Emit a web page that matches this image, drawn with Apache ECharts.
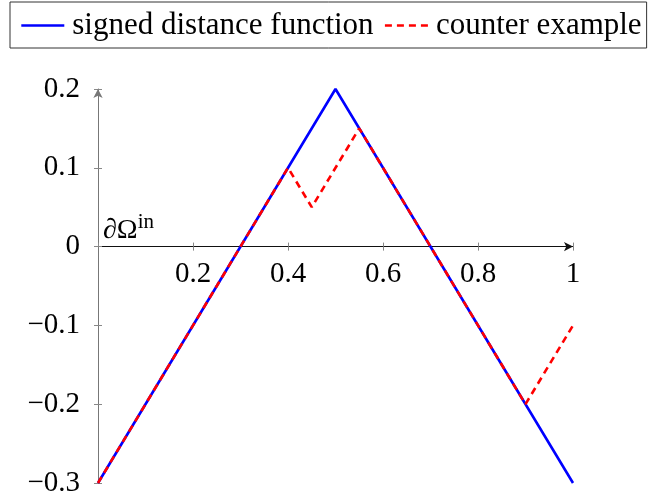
<!DOCTYPE html>
<html><head><meta charset="utf-8">
<script src="https://cdn.jsdelivr.net/npm/echarts@6/dist/echarts.min.js"></script>
<style>html,body{margin:0;padding:0;background:#fff}#c{width:652px;height:500px}</style>
</head><body><div id="c"></div>
<script>
const sdfX = [0, 0.5, 1];
const sdfY = [-0.3, 0.2, -0.3];
const ceX = [0, 0.4, 0.45, 0.55, 0.9, 1];
const ceY = [-0.3, 0.1, 0.05, 0.15, -0.2, -0.1];
const xTicks = [0.2, 0.4, 0.6, 0.8, 1];
const yTicks = [-0.3, -0.2, -0.1, 0, 0.1, 0.2];
const FONT = 'Liberation Serif';
const GRID = {left: 98, right: 79, top: 89, bottom: 17};
const plotH = 500 - GRID.top - GRID.bottom;
const zeroOffset = -plotH * (0 - yTicks[0]) / (yTicks[yTicks.length-1] - yTicks[0]);
const chart = echarts.init(document.getElementById('c'), null, {renderer: 'canvas'});
const fmtY = v => { const r = Math.round(v*10)/10; return r < 0 ? '\u2212' + String(-r) : String(r); };
const fmtX = v => xTicks.some(t => Math.abs(t - v) < 1e-9) ? String(Math.round(v*10)/10) : '';
chart.setOption({
  animation: false,
  textStyle: {fontFamily: FONT},
  legend: {
    top: 2, left: 10, width: 640,
    padding: [8, 5, 7, 10],
    borderColor: '#333', borderWidth: 1,
    itemGap: 10, itemWidth: 43, itemHeight: 30,
    itemStyle: {opacity: 0},
    lineStyle: {width: 2.6},
    textStyle: {fontFamily: FONT, fontSize: 31, color: '#000', padding: [0, 0, 0, 3]},
    data: ['signed distance function', 'counter example']
  },
  grid: Object.assign({outerBoundsMode: 'none', containLabel: false}, GRID),
  xAxis: [{
    type: 'value', min: 0, max: 1, interval: 0.2, position: 'bottom', offset: zeroOffset,
    axisLine: {onZero: false, lineStyle: {color: '#111', width: 1}, symbol: ['none', 'arrow'], symbolSize: [7, 9]},
    axisTick: {show: true, length: 4, lineStyle: {color: '#888'}},
    axisLabel: {fontFamily: FONT, fontSize: 29, color: '#000', margin: 13, formatter: fmtX, showMinLabel: false},
    splitLine: {show: false}
  }, {
    type: 'value', min: 0, max: 1, interval: 0.2, position: 'bottom', offset: zeroOffset,
    axisLine: {show: false, onZero: false},
    axisTick: {show: true, inside: true, length: 4, lineStyle: {color: '#888'}},
    axisLabel: {show: false},
    splitLine: {show: false}
  }],
  yAxis: [{
    type: 'value', min: -0.3, max: 0.2, interval: 0.1,
    axisLine: {show: true, onZero: false, lineStyle: {color: '#777', width: 1}, symbol: ['none', 'arrow'], symbolSize: [7, 9]},
    axisTick: {show: true, length: 4, lineStyle: {color: '#888'}},
    axisLabel: {fontFamily: FONT, fontSize: 29, color: '#000', margin: 18, formatter: fmtY},
    splitLine: {show: false}
  }, {
    type: 'value', min: -0.3, max: 0.2, interval: 0.1, position: 'left',
    axisLine: {show: false, onZero: false},
    axisTick: {show: true, inside: true, length: 4, lineStyle: {color: '#888'}},
    axisLabel: {show: false},
    splitLine: {show: false}
  }],
  series: [
    {
      name: 'signed distance function', type: 'line', symbol: 'none',
      data: sdfX.map((x, i) => [x, sdfY[i]]),
      lineStyle: {color: '#0000ff', width: 2.6}, itemStyle: {color: '#0000ff'},
      markPoint: {
        symbol: 'rect', symbolSize: 0, silent: true,
        data: [{coord: [0, 0]}],
        label: {show: true, position: 'insideBottomLeft', offset: [0, 3],
          formatter: '{a|\u2202\u03A9}{b|in}', color: '#000',
          rich: {a: {fontFamily: FONT, fontSize: 28, color: '#000', verticalAlign: 'bottom'},
                 b: {fontFamily: FONT, fontSize: 21, color: '#000', verticalAlign: 'top', padding: [0,0,12,0]}}}
      }
    },
    {
      name: 'counter example', type: 'line', symbol: 'none',
      data: ceX.map((x, i) => [x, ceY[i]]),
      lineStyle: {color: '#ff0000', width: 2.6, type: [7, 5]}, itemStyle: {color: '#ff0000'}
    }
  ]
});
</script></body></html>
